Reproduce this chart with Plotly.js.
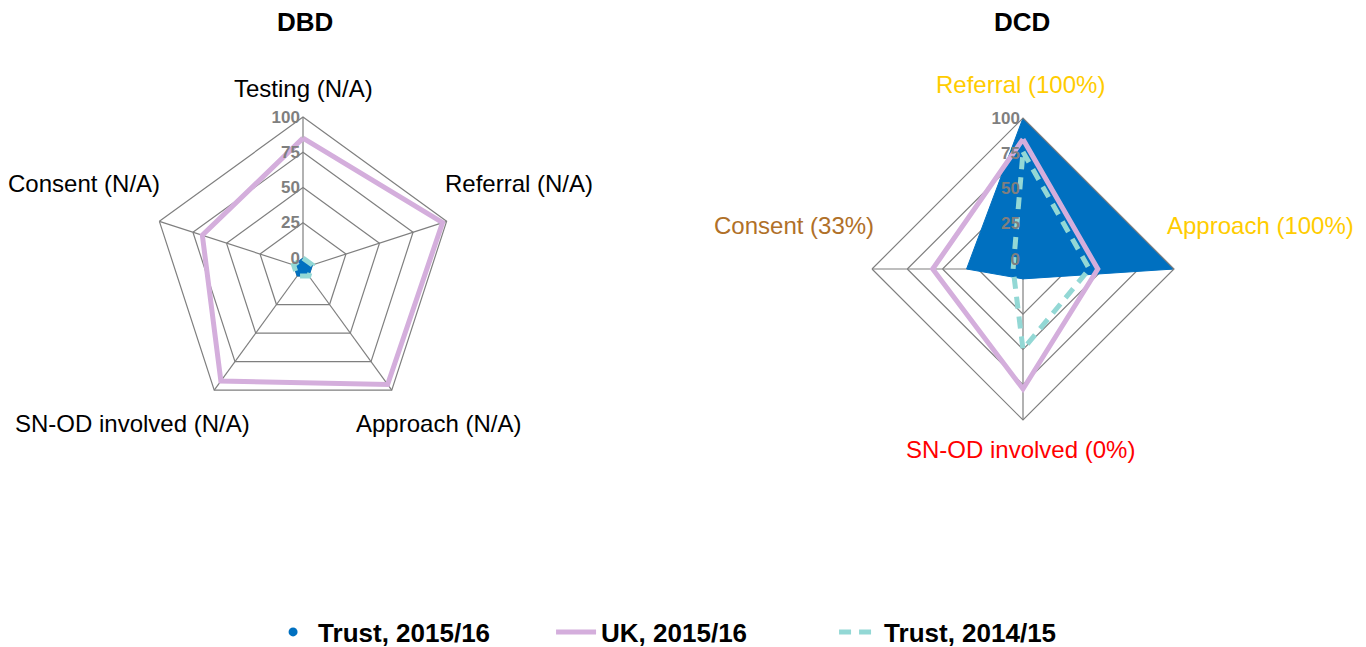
<!DOCTYPE html>
<html>
<head>
<meta charset="utf-8">
<script src="https://cdn.plot.ly/plotly-3.0.1.min.js"></script>
<style>html,body{margin:0;padding:0;background:#fff;}#chart{width:1366px;height:647px;}</style>
</head>
<body>
<div id="chart"></div>
<script>
// ---- DATA ----
const dbdCategories = ["Testing", "Referral", "Approach", "SN-OD involved", "Consent"];
const dbdTickLabels = ["Testing (N/A)", "Referral (N/A)", "Approach (N/A)", "SN-OD involved (N/A)", "Consent (N/A)"];
const dbdTrust1516 = [0, 0, 0, 0, 0];
const dbdUK1516 = [85, 97, 95, 92, 68];
const dbdTrust1415 = [0, 0, 0, 0, 0];

const dcdCategories = ["Referral", "Approach", "SN-OD involved", "Consent"];
const dcdTickLabels = ["Referral (100%)", "Approach (100%)", "SN-OD involved (0%)", "Consent (33%)"];
const dcdTrust1516 = [100, 100, 0, 33];
const dcdUK1516 = [85, 46, 78, 57];
const dcdTrust1415 = [76, 40, 50, 0];

const seriesNames = ["Trust, 2015/16", "UK, 2015/16", "Trust, 2014/15"];
const radialTicks = [0, 25, 50, 75, 100];

// ---- STYLE ----
const BLUE = "#0070C0", PURPLE = "#D4AEDC", CYAN = "#93D8D5", GRID = "#7F7F7F";
const dcdLabelColors = ["#FFCC00", "#FFCC00", "#FF0000", "#B07028"];
// label centres in pixels (text placement only)
const dbdLabelPos = [[303, 88], [519, 183], [438, 423], [132, 423], [84, 183]];
const dcdLabelPos = [[1020, 84], [1260, 226], [1020, 449], [794, 226]];
const FONT = "Liberation Sans, Arial, sans-serif";

function close(a) { return a.concat([a[0]]); }

const traces = [];
function addSubplot(sub, cats, trust, uk, old) {
  traces.push({type: "scatterpolar", subplot: sub, r: close(trust), theta: close(cats),
    mode: "lines", fill: "toself", fillcolor: BLUE, line: {color: BLUE, width: 1},
    showlegend: false, hoverinfo: "skip"});
  traces.push({type: "scatterpolar", subplot: sub, r: close(uk), theta: close(cats),
    mode: "lines", line: {color: PURPLE, width: 5}, name: seriesNames[1],
    showlegend: sub === "polar", legendrank: 2});
  traces.push({type: "scatterpolar", subplot: sub, r: close(old), theta: close(cats),
    mode: "lines", line: {color: CYAN, width: 5, dash: "12px,8px"}, name: seriesNames[2],
    showlegend: sub === "polar", legendrank: 3});
}
addSubplot("polar", dbdCategories, dbdTrust1516, dbdUK1516, dbdTrust1415);
addSubplot("polar2", dcdCategories, dcdTrust1516, dcdUK1516, dcdTrust1415);
// legend entry for the filled Trust 2015/16 series
traces.push({type: "scatterpolar", subplot: "polar", r: [null], theta: [null], mode: "markers",
  marker: {color: BLUE, size: 9}, name: seriesNames[0], legendrank: 1});

function polarLayout(xd, yd, cats) {
  return {
    domain: {x: xd, y: yd},
    gridshape: "linear",
    bgcolor: "rgba(0,0,0,0)",
    radialaxis: {range: [-7, 100], tickvals: radialTicks, angle: 90, side: "counterclockwise",
      tickangle: 90, showline: false, layer: "above traces",
      gridcolor: GRID, gridwidth: 1.2, ticks: "", showticklabels: true,
      tickfont: {family: FONT, size: 17, color: GRID, weight: "bold"}},
    angularaxis: {direction: "clockwise", rotation: 90, type: "category",
      categoryarray: cats, showticklabels: false, layer: "above traces",
      showline: true, linecolor: GRID, linewidth: 1.2, gridcolor: GRID, gridwidth: 1.2, ticks: ""}
  };
}

const W = 1366, H = 647, R = 151;
function dom(cx, cy) {
  return [[(cx - R) / W, (cx + R) / W], [(H - cy - R) / H, (H - cy + R) / H]];
}
const d1 = dom(303, 268), d2 = dom(1023, 269);

const annotations = [
  {text: "DBD", x: 305 / W, y: 1 - 22 / H, xref: "paper", yref: "paper", showarrow: false,
    xanchor: "center", yanchor: "middle", font: {family: FONT, size: 26, weight: "bold", color: "#000"}},
  {text: "DCD", x: 1022 / W, y: 1 - 22 / H, xref: "paper", yref: "paper", showarrow: false,
    xanchor: "center", yanchor: "middle", font: {family: FONT, size: 26, weight: "bold", color: "#000"}}
];
dbdTickLabels.forEach((t, i) => annotations.push({text: t, x: dbdLabelPos[i][0] / W, y: 1 - dbdLabelPos[i][1] / H,
  xref: "paper", yref: "paper", showarrow: false, xanchor: "center", yanchor: "middle",
  font: {family: FONT, size: 24, color: "#000"}}));
dcdTickLabels.forEach((t, i) => annotations.push({text: t, x: dcdLabelPos[i][0] / W, y: 1 - dcdLabelPos[i][1] / H,
  xref: "paper", yref: "paper", showarrow: false, xanchor: "center", yanchor: "middle",
  font: {family: FONT, size: 24, color: dcdLabelColors[i]}}));

const layout = {
  width: W, height: H,
  margin: {l: 0, r: 0, t: 0, b: 0, autoexpand: false},
  paper_bgcolor: "#fff",
  font: {family: FONT, color: "#000"},
  polar: polarLayout(d1[0], d1[1], dbdCategories),
  polar2: polarLayout(d2[0], d2[1], dcdCategories),
  showlegend: true,
  legend: {orientation: "h", x: 0.507, xanchor: "center", yref: "container", y: 15 / H, yanchor: "middle",
    font: {family: FONT, size: 26, color: "#000", weight: "bold"},
    itemwidth: 40, entrywidth: 228, tracegroupgap: 0},
  annotations: annotations
};

Plotly.newPlot("chart", traces, layout, {staticPlot: true, displayModeBar: false});
</script>
</body>
</html>
